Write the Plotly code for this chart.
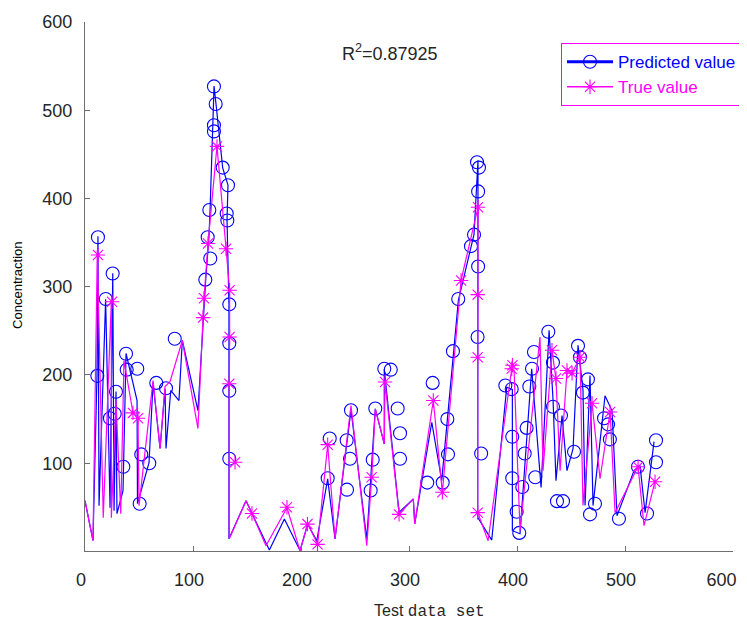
import plotly.graph_objects as go

# ---- data (test-sample index vs. concentration) ----
pred_line_x = [0, 7.4, 11.1, 12.0, 13.0, 19.1, 23.2, 25.7, 26.9, 28.7, 29.6, 35.2, 38.0, 48.2, 48.6,
               59.3, 63.0, 69.5, 74.1, 75.0, 79.4, 87.0, 90.1, 104.6, 111.8, 114.8, 115.8, 119.5,
               121.3, 127.5, 132.4, 131.5, 133.3, 133.3, 149.1, 170.7, 184.6, 199.1, 206.2, 214.6,
               224.7, 231.5, 246.3, 260.9, 268.8, 277.1, 277.1, 290.8, 304.0, 305.3, 321.1, 330.3,
               345.7, 360.2, 363.9, 363.6, 376.6, 390.5, 395.7, 395.7, 402.8, 413.6, 422.3, 429.7,
               433.4, 436.1, 441.7, 446.3, 451.9, 456.5, 461.1, 463.0, 467.6, 470.4, 481.5, 488.0,
               492.6, 508.4, 513.9, 518.6, 526.9]
pred_line_y = [57.5, 12.3, 199.4, 357.2, 51.9, 285.7, 49.6, 315.2, 46.2, 181.3, 42.8, 68.9, 224.4,
               171, 54.1, 100.7, 191.5, 116.6, 184.7, 116.6, 182.4, 171, 239.1, 159.7, 308.4, 357.2,
               386.7, 527.4, 507, 434.7, 415.1, 375.4, 280, 14.4, 57.5, 1.6, 36.8, 1.0, 31.1, 12.1,
               82.2, 14.1, 160.5, 14.1, 161.6, 121.9, 206.6, 44.3, 59.5, 31.1, 146.4, 80.2, 284.5,
               359.4, 443.4, 38.6, 12.9, 186.1, 183.5, 23.5, 20.1, 207, 72.6, 250.5, 171, 80.2, 154,
               91.6, 116.6, 233.6, 182.5, 52, 199.3, 52, 176.4, 159.4, 40.5, 91.6, 97.3, 43.9, 124.5]

pred_mark_x = [11.4, 12.0, 19.2, 23.1, 25.6, 27.5, 28.7, 35.5, 38.0, 38.6, 48.4, 50.6, 52.1, 59.5,
               66.0, 75.0, 83.1, 111.4, 113.6, 115.1, 116.0, 119.4, 121.0, 119.4, 119.4, 127.5,
               131.2, 131.8, 132.4, 133.6, 133.6, 133.6, 133.6, 224.7, 226.6, 242.3, 242.6, 245.4,
               246.3, 264.5, 266.4, 268.8, 277.1, 283.1, 289.5, 291.7, 291.7, 316.9, 321.9, 331.2,
               335.5, 336.1, 340.7, 345.6, 357.4, 360.2, 363.0, 364.8, 364.0, 364.0, 363.5, 366.8,
               389.2, 395.1, 395.6, 395.6, 399.7, 402.1, 404.9, 407.1, 408.9, 411.4, 413.9, 415.7,
               416.9, 429.0, 433.3, 433.3, 437.0, 442.6, 440.7, 452.8, 456.5, 458.3, 461.0, 465.7,
               467.6, 472.2, 480.6, 484.3, 486.0, 494.4, 512.0, 520.4, 528.7, 528.7]
pred_mark_y = [199, 356, 286, 151, 315, 156, 181, 96, 224, 206, 207, 54, 110, 100, 191, 185, 241,
               308, 356, 387, 332, 527, 507, 483, 476, 435, 383, 375, 415, 280, 236, 182, 105, 83,
               128, 126, 70, 105, 160, 69, 104, 162, 207, 206, 162, 134, 105, 78, 191, 78, 150, 110,
               227, 286, 346, 359, 441, 435, 408, 323, 243, 111, 188, 184, 130, 83, 45, 21, 73, 111,
               140, 187, 207, 226, 84, 249, 214, 164, 57, 57, 154, 113, 233, 220, 180, 195, 42, 54,
               151, 144, 127, 37, 96, 43, 126, 101]

true_line_x = [0, 7.4, 11.4, 16.9, 24.4, 24.4, 28.7, 33.1, 36.1, 44.4, 49.1, 50.0, 63.0, 69.5,
               74.1, 78.7, 90.1, 104.6, 109.3, 110.2, 113.9, 122.2, 130.6, 133.9, 133.9, 133.6,
               133.6, 149.1, 154.6, 167.6, 187.0, 199.1, 206.2, 215.4, 224.7, 231.5, 246.3, 260.9,
               265.5, 268.8, 277.1, 277.8, 290.8, 304.0, 305.3, 322.5, 330.9, 348.2, 363.9, 363.6,
               363.6, 363.6, 373.2, 395.1, 397.3, 402.8, 421.3, 424.1, 432.4, 436.1, 439.9, 446.3,
               451.0, 458.4, 461.1, 469.5, 476.9, 486.2, 490.8, 512.1, 517.6, 527.8]
true_line_y = [57.5, 12.3, 341.3, 38.2, 284.6, 38.2, 171, 42.8, 216.2, 157.4, 150.6, 51.9, 193.6,
               116.6, 186.9, 192.5, 239.1, 139.3, 265.3, 286.8, 349.2, 459.3, 343.3, 295.9, 242.9,
               190, 14.4, 57.5, 42.8, 6.5, 49.6, 0.8, 31.1, 8.4, 120.8, 14.1, 165.4, 6.5, 84, 161.6,
               121.9, 191.8, 42.4, 59.5, 31.1, 171, 67, 307.3, 390, 291.4, 219.5, 44.3, 12.1, 207,
               205, 23.5, 242.9, 91.6, 227.5, 195.6, 91.6, 204.7, 202.4, 219.8, 52, 167.6, 82.5,
               158.3, 43.9, 96.2, 29.3, 79.3]

true_mark_x = [12.0, 25.0, 44.4, 49.1, 109.3, 110.2, 113.9, 122.2, 130.6, 133.9, 133.9, 133.6,
               138.9, 154.6, 187.0, 206.0, 215.3, 224.7, 265.4, 277.8, 290.8, 322.5, 330.9, 348.2,
               363.9, 363.6, 363.6, 363.6, 395.1, 395.8, 432.4, 436.1, 446.3, 451.0, 458.4, 469.5,
               486.2, 512.1, 527.8]
true_mark_y = [336, 283, 157, 151, 265, 287, 349, 459, 343, 296, 243, 190, 101, 43, 50, 31, 8, 121,
               84, 192, 42, 171, 67, 307, 390, 291, 220, 44, 207, 211, 228, 196, 205, 202, 220, 168,
               158, 96, 79]

x_ticks = [0, 100, 200, 300, 400, 500, 600]
x_tick_labels = ["0", "100", "200", "300", "400", "500", "600\u00a0\u00a0\u00a0"]
y_ticks = [100, 200, 300, 400, 500, 600]
y_tick_labels = ["100", "200", "300", "400", "500", "600"]

BLUE = "#0000FF"
MAG = "#FF00FF"
TXT = "#262626"
AX = "#6e6e6e"

fig = go.Figure()
fig.add_trace(go.Scatter(x=pred_line_x, y=pred_line_y, mode="lines",
                         line=dict(color=BLUE, width=1.2), showlegend=False, hoverinfo="skip"))
fig.add_trace(go.Scatter(x=pred_mark_x, y=pred_mark_y, mode="markers",
                         marker=dict(symbol="circle-open", size=13, color=BLUE,
                                     line=dict(color=BLUE, width=1.1)),
                         showlegend=False))
fig.add_trace(go.Scatter(x=true_line_x, y=true_line_y, mode="lines",
                         line=dict(color=MAG, width=1.2), showlegend=False, hoverinfo="skip"))
fig.add_trace(go.Scatter(x=true_mark_x, y=true_mark_y, mode="markers",
                         marker=dict(symbol="asterisk-open", size=12, color=MAG,
                                     line=dict(color=MAG, width=1.1)),
                         showlegend=False))
# legend entries
fig.add_trace(go.Scatter(x=[None], y=[None], mode="lines+markers",
                         name='<span style="color:#0000FF">Predicted value</span>',
                         line=dict(color=BLUE, width=3),
                         marker=dict(symbol="circle-open", size=13, color=BLUE,
                                     line=dict(color=BLUE, width=1.1))))
fig.add_trace(go.Scatter(x=[None], y=[None], mode="lines+markers",
                         name='<span style="color:#FF00FF">True value</span>',
                         line=dict(color=MAG, width=1.5),
                         marker=dict(symbol="asterisk-open", size=12, color=MAG,
                                     line=dict(color=MAG, width=1.1))))

fig.update_layout(
    width=739, height=618,
    margin=dict(l=77, r=14, t=14, b=75, autoexpand=False),
    paper_bgcolor="white", plot_bgcolor="white",
    font=dict(family="Liberation Sans, Arial, sans-serif", color=TXT),
    showlegend=True,
    legend=dict(x=0.7346, y=0.96, xanchor="left", yanchor="top",
                bgcolor="white", bordercolor=MAG, borderwidth=1,
                font=dict(size=17, family="Liberation Sans, Arial, sans-serif"),
                itemwidth=46, tracegroupgap=0),
    xaxis=dict(range=[0, 600], tickvals=x_ticks, ticktext=x_tick_labels,
               ticks="inside", ticklen=5, tickcolor=AX, showline=True, linecolor=AX,
               linewidth=1, showgrid=False, zeroline=False, mirror=False, automargin=False,
               ticklabeloverflow="allow", ticklabelshift=-4,
               tickfont=dict(size=18, color=TXT), ticklabelstandoff=12),
    yaxis=dict(range=[0.5, 600], tickvals=y_ticks, ticktext=y_tick_labels,
               ticks="inside", ticklen=5, tickcolor=AX, showline=True, linecolor=AX,
               linewidth=1, showgrid=False, zeroline=False, mirror=False, automargin=False,
               ticklabeloverflow="allow",
               tickfont=dict(size=18, color=TXT), ticklabelstandoff=8),
    annotations=[
        dict(text="R<sup>2</sup>=0.87925", x=0.47, y=0.942, xref="paper", yref="paper",
             showarrow=False, font=dict(size=18, color=TXT), xanchor="center", yanchor="middle"),
        dict(text="Concentraction", x=-0.1034, y=0.503, xref="paper", yref="paper",
             textangle=-90, showarrow=False, font=dict(size=13, color="black"),
             xanchor="center", yanchor="middle"),
        dict(text='Test <span style="font-family:Liberation Mono">data set</span>',
             x=0.532, y=-0.115, xref="paper", yref="paper", showarrow=False,
             font=dict(size=16, color=TXT), xanchor="center", yanchor="middle"),
    ],
)

fig.write_html("out.html")
